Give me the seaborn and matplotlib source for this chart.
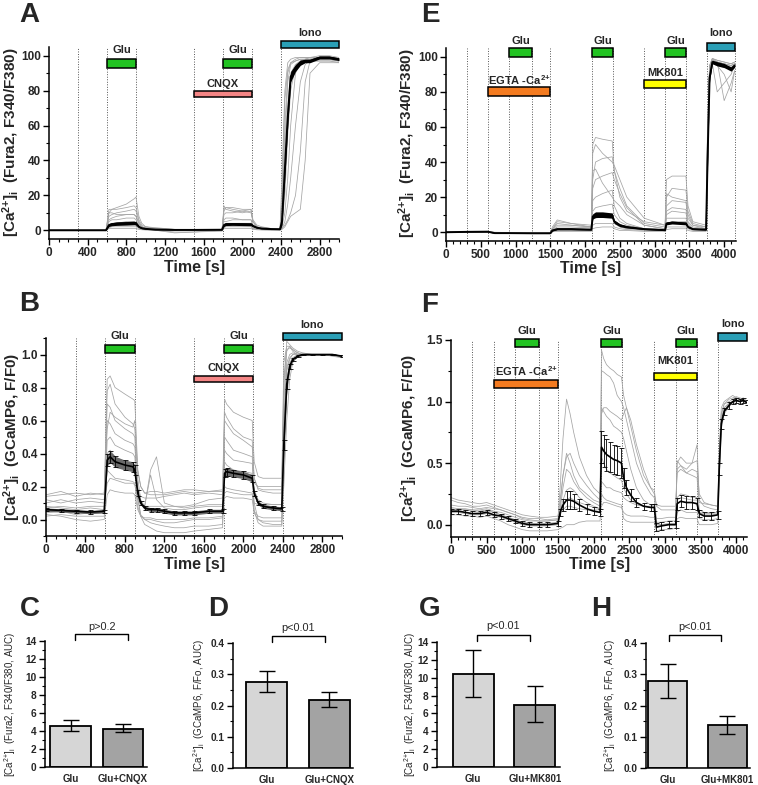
import numpy as np
import pandas as pd
import matplotlib
matplotlib.use("Agg")
import matplotlib.pyplot as plt
import seaborn as sns
from matplotlib.patches import Rectangle
from matplotlib.ticker import MultipleLocator

sns.set_style("ticks")
plt.rcParams["font.family"] = ["Liberation Sans", "DejaVu Sans"]
plt.rcParams["mathtext.fontset"] = "custom"
plt.rcParams["mathtext.rm"] = "Liberation Sans"
plt.rcParams["mathtext.it"] = "Liberation Sans"
plt.rcParams["mathtext.bf"] = "Liberation Sans:bold"

# ===== A: Fura2, Glu / CNQX =====
time_a = [0, 300, 590,
          620, 650, 700, 800, 880, 900,
          930, 960, 1000, 1100, 1300, 1500, 1790,
          1810, 1830, 1900, 2000, 2090,
          2110, 2150, 2200, 2300, 2390,
          2410, 2440, 2470, 2500, 2550, 2600, 2650, 2700, 2800, 2900, 3000]
mean_a = [0, 0, 0,
          3.0, 3.5, 3.8, 4.0, 4.2, 4.0,
          2.0, 1.2, 0.8, 0.4, 0.2, 0.2, 0.3,
          3.0, 3.5, 3.6, 3.5, 3.4,
          2.5, 1.5, 1.0, 0.7, 0.6,
          5, 35, 65, 88, 93, 96, 97, 97, 99, 99, 98]
sem_a = [0.05, 0.05, 0.05,
         0.8, 0.9, 1.0, 1.0, 1.0, 1.0,
         0.5, 0.3, 0.2, 0.1, 0.1, 0.1, 0.1,
         0.8, 0.8, 0.8, 0.8, 0.8,
         0.5, 0.3, 0.2, 0.2, 0.2,
         2, 5, 5, 3, 2, 1.5, 1, 1, 0.8, 0.8, 0.8]
cells_a = [
    [0, 0, 0, 10, 12, 13, 15, 18, 19, 8, 4, 2, 1, 0.5, 0.5, 0.5, 11, 13, 13, 12, 12,
     6, 3, 2, 1, 1, 30, 80, 96, 98, 99, 99, 99, 99, 100, 100, 99],
    [0, 0, 0, 12, 12, 12, 13, 14, 13, 6, 3, 2, 1, 0.3, 0.3, 0.3, 14, 12, 11, 10, 11,
     5, 2, 1.5, 1, 0.8, 10, 50, 85, 95, 97, 98, 98, 98, 98, 98, 97],
    [0, 0, 0, 8, 9, 10, 11, 12, 11, 5, 2, 1, 0.5, 0, 0, 0, 9, 10, 10, 11, 12,
     5, 2, 1, 0.5, 0.5, 2, 10, 30, 60, 90, 96, 97, 98, 98, 98, 97],
    [0, 0, 0, 5, 6, 6, 7, 7, 6, 3, 2, 1.5, 1, 0.5, 0.5, 0.5, 6, 7, 7, 6, 6,
     3, 1.5, 1, 0.8, 0.6, 1, 5, 15, 30, 60, 85, 95, 97, 97, 97, 96],
    [0, 0, 0, 3, 4, 4, 5, 5, 4, 2, 1, 0.5, 0, -1, -1, -0.5, 3, 4, 4, 4, 4,
     2, 1, 0.5, 0.3, 0.3, 1, 3, 6, 10, 20, 45, 85, 97, 97, 97, 97],
    [0, 0, 0, 2, 2.5, 3, 3, 3, 3, 1.5, 1, 2, 1.5, 0.5, 0.3, 0.3, 2, 2.5, 2.5, 2.5, 2.5,
     1.2, 0.8, 0.5, 0.3, 0.3, 20, 75, 92, 96, 97, 98, 98, 99, 99, 99, 98],
    [0, 0, 0, 1.5, 2, 2, 2, 2, 2, 1, 0.5, 0.3, 0.2, 0, 0, 0, 1.5, 2, 2, 2, 2,
     1, 0.5, 0.3, 0.2, 0.2, 3, 20, 55, 80, 94, 97, 98, 98, 99, 99, 98],
    [0, 0, 0, 6, 7, 8, 9, 9, 8, 4, 2, 1, 0.5, 0.2, 0.2, 0.2, 12, 13, 12, 11, 10,
     5, 2, 1, 0.5, 0.4, 5, 40, 70, 90, 95, 97, 98, 98, 98, 98, 97],
    [0, 0, 0, 1, 1, 1, 1, 1, 1, 0.5, 0.3, 0.2, 0, -1.5, -1, 0, 1, 1, 1, 1, 1,
     0.5, 0.3, 0.2, 0.1, 0.1, 0.5, 2, 5, 8, 10, 12, 40, 90, 96, 96, 96],
    [0, 0, 0, 10, 10, 9, 9, 9, 8, 4, 2, 1, 0.5, 0.2, 0.2, 0.2, 5, 5, 6, 6, 6,
     3, 1.5, 1, 0.5, 0.5, 8, 60, 90, 96, 98, 99, 99, 99, 99, 99, 98],
]

# ===== B: GCaMP6, Glu / CNQX =====
time_b = [0, 150, 300, 450, 590,
          620, 650, 700, 800, 880, 900,
          930, 960, 1000, 1060, 1120, 1200, 1300, 1400, 1500, 1650, 1790,
          1810, 1830, 1900, 2000, 2090,
          2110, 2150, 2200, 2300, 2390,
          2410, 2440, 2470, 2500, 2550, 2600, 2700, 2800, 2900, 3000]
mean_b = [0.06, 0.055, 0.05, 0.045, 0.05,
          0.36, 0.38, 0.35, 0.33, 0.32, 0.30,
          0.16, 0.10, 0.07, 0.06, 0.06, 0.05, 0.04, 0.04, 0.04, 0.05, 0.05,
          0.28, 0.29, 0.28, 0.27, 0.25,
          0.16, 0.10, 0.08, 0.07, 0.065,
          0.45, 0.82, 0.93, 0.97, 0.99, 1.0, 1.0, 1.0, 1.0, 0.99]
sem_b = [0.01, 0.01, 0.01, 0.01, 0.01,
         0.035, 0.035, 0.033, 0.03, 0.03, 0.03,
         0.02, 0.012, 0.01, 0.012, 0.012, 0.012, 0.012, 0.012, 0.012, 0.012, 0.012,
         0.025, 0.025, 0.022, 0.022, 0.022,
         0.015, 0.012, 0.012, 0.012, 0.012,
         0.03, 0.03, 0.015, 0.01, 0.005, 0.005, 0.005, 0.005, 0.005, 0.005]
cells_b = [
    [0.15, 0.17, 0.14, 0.16, 0.15, 0.85, 0.87, 0.80, 0.76, 0.73, 0.72,
     0.30, 0.20, 0.16, 0.15, 0.15, 0.15, 0.16, 0.17, 0.16, 0.17, 0.18,
     0.73, 0.70, 0.65, 0.62, 0.60, 0.35, 0.26, 0.25, 0.25, 0.25,
     0.95, 1.05, 1.05, 1.03, 1.01, 1.0, 1.0, 1.0, 1.0, 0.99],
    [0.10, 0.12, 0.10, 0.11, 0.10, 0.78, 0.82, 0.70, 0.62, 0.58, 0.55,
     0.25, 0.12, 0.08, 0.30, 0.38, 0.10, 0.08, 0.08, 0.09, 0.12, 0.13,
     0.65, 0.62, 0.55, 0.50, 0.48, 0.25, 0.18, 0.17, 0.16, 0.16,
     0.80, 1.08, 1.06, 1.04, 1.02, 1.01, 1.0, 1.0, 1.0, 0.99],
    [0.05, 0.06, 0.04, 0.05, 0.05, 0.70, 0.68, 0.60, 0.55, 0.52, 0.50,
     0.15, 0.02, -0.03, -0.05, -0.07, -0.08, -0.08, -0.08, -0.07, -0.06, -0.05,
     0.50, 0.48, 0.42, 0.40, 0.38, 0.10, 0.0, -0.02, -0.03, -0.03,
     0.60, 0.95, 1.0, 1.01, 1.0, 1.0, 1.0, 1.0, 0.99, 0.98],
    [0.08, 0.07, 0.06, 0.07, 0.06, 0.60, 0.58, 0.52, 0.48, 0.46, 0.44,
     0.20, 0.10, 0.08, 0.27, 0.12, 0.07, 0.06, 0.06, 0.07, 0.08, 0.08,
     0.42, 0.40, 0.36, 0.35, 0.34, 0.18, 0.12, 0.10, 0.09, 0.09,
     0.50, 0.90, 0.97, 1.0, 1.01, 1.0, 1.0, 1.0, 1.0, 0.99],
    [0.02, 0.03, 0.02, 0.02, 0.02, 0.48, 0.50, 0.45, 0.42, 0.40, 0.38,
     0.12, 0.03, 0.0, -0.02, -0.03, -0.04, -0.05, -0.05, -0.04, -0.04, -0.03,
     0.35, 0.33, 0.30, 0.28, 0.27, 0.05, -0.02, -0.04, -0.04, -0.04,
     0.40, 0.85, 0.95, 0.98, 1.0, 1.0, 1.0, 1.0, 1.0, 0.99],
    [0.12, 0.10, 0.12, 0.13, 0.12, 0.40, 0.42, 0.38, 0.35, 0.34, 0.33,
     0.18, 0.14, 0.13, 0.13, 0.13, 0.14, 0.15, 0.16, 0.15, 0.16, 0.15,
     0.30, 0.31, 0.30, 0.29, 0.28, 0.22, 0.20, 0.20, 0.20, 0.20,
     0.70, 1.02, 1.05, 1.02, 1.0, 1.0, 1.0, 1.0, 1.0, 0.99],
    [0.04, 0.05, 0.03, 0.04, 0.04, 0.30, 0.28, 0.25, 0.24, 0.23, 0.22,
     0.08, 0.02, 0.0, 0.0, -0.01, -0.02, -0.02, -0.01, 0.0, 0.0, 0.01,
     0.20, 0.19, 0.18, 0.17, 0.16, 0.05, 0.02, 0.01, 0.01, 0.01,
     0.30, 0.75, 0.90, 0.96, 0.99, 1.0, 1.0, 1.0, 1.0, 0.99],
    [0.07, 0.08, 0.07, 0.08, 0.08, 0.22, 0.25, 0.24, 0.22, 0.22, 0.21,
     0.12, 0.09, 0.08, 0.08, 0.08, 0.08, 0.08, 0.07, 0.08, 0.09, 0.09,
     0.16, 0.17, 0.16, 0.15, 0.15, 0.10, 0.09, 0.09, 0.09, 0.09,
     0.55, 0.92, 0.98, 1.0, 1.0, 1.0, 1.0, 1.0, 1.0, 0.99],
    [0.03, 0.02, 0.0, -0.01, 0.0, 0.15, 0.18, 0.17, 0.16, 0.16, 0.15,
     0.06, 0.02, 0.01, 0.01, 0.0, 0.0, 0.0, 0.0, 0.01, 0.01, 0.02,
     0.13, 0.14, 0.13, 0.13, 0.12, 0.04, 0.0, -0.01, -0.01, -0.01,
     0.20, 0.60, 0.85, 0.95, 0.99, 1.0, 1.0, 1.0, 1.0, 0.99],
    [0.14, 0.15, 0.16, 0.15, 0.16, 0.55, 0.65, 0.62, 0.58, 0.56, 0.60,
     0.30, 0.20, 0.16, 0.17, 0.17, 0.16, 0.17, 0.18, 0.18, 0.17, 0.17,
     0.60, 0.58, 0.52, 0.48, 0.44, 0.25, 0.19, 0.18, 0.18, 0.18,
     0.85, 1.03, 1.04, 1.03, 1.01, 1.0, 1.0, 1.0, 1.0, 0.99],
]

# ===== E: Fura2, EGTA / MK801 =====
time_e = [0, 300, 600, 700, 900, 1240, 1500,
          1530, 1600, 1800, 2090,
          2110, 2150, 2250, 2390,
          2420, 2500, 2600, 2850, 3150,
          3170, 3250, 3450,
          3480, 3550, 3740,
          3760, 3790, 3830, 3900, 4000, 4100, 4150]
mean_e = [0, 0.2, 0.3, -0.5, -0.5, -0.6, -0.6,
          1.0, 1.8, 1.8, 1.5,
          9, 10, 10, 9.5,
          6, 4, 3, 1.8, 1.2,
          5, 5.5, 5,
          3, 1.8, 1.5,
          40, 88, 97, 96, 95, 93, 95]
sem_e = [0.1, 0.1, 0.1, 0.1, 0.1, 0.1, 0.1,
         0.3, 0.4, 0.4, 0.3,
         1.5, 1.6, 1.6, 1.5,
         1.0, 0.8, 0.6, 0.3, 0.3,
         0.8, 0.8, 0.8,
         0.5, 0.3, 0.3,
         3, 1.5, 1.0, 1.2, 1.2, 1.2, 1.0]
cells_e = [
    [0, 0, 0, -0.5, -0.5, -0.5, -0.5, 3, 7, 5, 3, 50, 54, 53, 52, 35, 20, 12, 6, 4,
     30, 32, 32, 15, 6, 4, 60, 95, 99, 98, 97, 96, 97],
    [0, 0.5, 0.5, -0.3, -0.5, -0.5, -0.5, 2, 5, 4, 3, 45, 50, 45, 40, 38, 30, 20, 8, 4,
     20, 25, 24, 12, 5, 3, 50, 90, 96, 80, 85, 90, 95],
    [0, 0.3, 0.5, 0, -0.2, -0.3, -0.3, 1.5, 4, 4, 3, 30, 40, 42, 43, 35, 25, 15, 5, 3,
     15, 18, 17, 8, 4, 3, 30, 85, 98, 97, 96, 95, 96],
    [0, 0, 0.2, -0.5, -0.6, -0.7, -0.7, 1, 3, 3, 2.5, 25, 30, 32, 34, 30, 22, 14, 4, 2,
     12, 14, 13, 6, 3, 2, 55, 95, 99, 97, 75, 85, 92],
    [0, 0, 0.2, -0.5, -0.5, -0.6, -0.6, 1, 2, 2, 1.5, 18, 20, 22, 24, 15, 8, 5, 2, 1.5,
     10, 12, 11, 5, 2, 1.5, 45, 92, 98, 97, 96, 95, 96],
    [0, 0, 0.3, -0.4, -0.5, -0.5, -0.5, 1, 1.5, 1.5, 1.2, 12, 14, 15, 16, 10, 6, 4, 2, 1.5,
     8, 8, 8, 4, 2, 1.5, 35, 90, 97, 96, 95, 94, 95],
    [0, 0, 0.2, -0.5, -0.6, -0.6, -0.6, 0.8, 1.5, 1.5, 1.2, 8, 8, 9, 9, 5, 3, 2, 1.5, 1.2,
     5, 6, 6, 3, 1.5, 1.2, 40, 88, 98, 95, 90, 80, 92],
    [0, 0, 0.2, -0.5, -0.5, -0.6, -0.6, 0.5, 1, 1, 1, 4, 5, 5, 5, 3, 2, 1.5, 1, 1,
     3, 3, 3, 2, 1, 1, 35, 85, 96, 97, 96, 95, 96],
    [0, 0, 0, -0.6, -0.7, -0.8, -0.8, 0.3, 0.5, 0.5, 0.5, 2, 2.5, 3, 3, 2, 1, 1, 0.5, 0.5,
     1.5, 2, 2, 1, 0.5, 0.5, 30, 85, 96, 95, 94, 94, 95],
    [0, 0.3, 0.5, -0.3, -0.4, -0.5, -0.5, 2, 6, 5, 4, 35, 36, 28, 20, 18, 15, 10, 4, 2,
     22, 20, 18, 10, 4, 2, 45, 93, 99, 98, 97, 96, 97],
]

# ===== F: GCaMP6, EGTA / MK801 =====
time_f = [0, 100, 200, 300, 400, 500, 600, 700, 800, 900,
          1000, 1100, 1240, 1350, 1500,
          1530, 1570, 1620, 1670, 1720, 1800, 1900, 2000, 2090,
          2110, 2140, 2180, 2230, 2280, 2330, 2390,
          2420, 2460, 2520, 2600, 2700, 2800, 2850,
          2880, 2950, 3050, 3150,
          3170, 3220, 3300, 3380, 3450,
          3480, 3550, 3650, 3740,
          3760, 3790, 3830, 3900, 3950, 4000, 4050, 4100, 4150]
mean_f = [0.11, 0.11, 0.10, 0.09, 0.09, 0.10, 0.08, 0.07, 0.05, 0.03,
          0.01, 0.0, 0.0, 0.0, 0.01,
          0.10, 0.16, 0.20, 0.20, 0.19, 0.16, 0.13, 0.11, 0.10,
          0.63, 0.60, 0.57, 0.55, 0.53, 0.52, 0.50,
          0.38, 0.30, 0.24, 0.18, 0.15, 0.14, 0.14,
          -0.02, -0.01, 0.0, 0.0,
          0.17, 0.19, 0.18, 0.18, 0.17,
          0.09, 0.07, 0.07, 0.08,
          0.45, 0.82, 0.92, 0.97, 1.0, 1.01, 1.0, 1.01, 0.99]
sem_f = [0.02, 0.02, 0.02, 0.02, 0.02, 0.02, 0.02, 0.02, 0.02, 0.02,
         0.02, 0.02, 0.02, 0.02, 0.02,
         0.03, 0.05, 0.07, 0.07, 0.06, 0.05, 0.04, 0.03, 0.03,
         0.13, 0.13, 0.13, 0.12, 0.12, 0.12, 0.12,
         0.08, 0.06, 0.05, 0.04, 0.03, 0.03, 0.03,
         0.03, 0.03, 0.03, 0.03,
         0.05, 0.05, 0.05, 0.05, 0.05,
         0.03, 0.03, 0.03, 0.03,
         0.05, 0.04, 0.03, 0.03, 0.02, 0.02, 0.02, 0.02, 0.02]
cells_f = [
    [0.2, 0.18, 0.17, 0.15, 0.15, 0.16, 0.14, 0.12, 0.1, 0.08, 0.06, 0.05, 0.05, 0.04, 0.05,
     0.3, 0.7, 1.02, 0.9, 0.75, 0.55, 0.4, 0.3, 0.25, 1.42, 1.35, 1.3, 1.27, 1.25, 1.22, 1.2,
     1.05, 0.95, 0.8, 0.6, 0.4, 0.3, 0.28, 0.15, 0.12, 0.12, 0.12, 0.5, 0.55, 0.5, 0.5, 0.52,
     0.25, 0.18, 0.16, 0.15, 0.6, 0.95, 1.0, 1.03, 1.05, 1.03, 1.02, 1.03, 1.0],
    [0.12, 0.13, 0.12, 0.12, 0.11, 0.12, 0.1, 0.08, 0.06, 0.04, 0.02, 0.01, 0.0, 0.0, 0.01,
     0.15, 0.4, 0.58, 0.5, 0.4, 0.3, 0.25, 0.2, 0.18, 1.25, 1.24, 1.22, 1.2, 1.15, 1.05, 1.0,
     0.95, 0.85, 0.7, 0.5, 0.35, 0.25, 0.22, 0.05, 0.05, 0.06, 0.06, 0.45, 0.48, 0.45, 0.5, 0.65,
     0.2, 0.15, 0.13, 0.12, 0.5, 0.9, 0.98, 1.0, 1.02, 1.03, 1.02, 1.0, 0.99],
    [0.1, 0.1, 0.09, 0.08, 0.08, 0.09, 0.07, 0.06, 0.04, 0.02, 0.0, -0.01, -0.01, -0.01, 0.0,
     0.12, 0.3, 0.45, 0.42, 0.35, 0.28, 0.22, 0.18, 0.15, 0.95, 0.92, 0.88, 0.85, 0.8, 0.78, 0.75,
     0.7, 0.6, 0.45, 0.3, 0.2, 0.16, 0.15, 0.0, 0.0, 0.01, 0.01, 0.52, 0.48, 0.42, 0.4, 0.38,
     0.12, 0.1, 0.1, 0.1, 0.45, 0.85, 0.95, 0.98, 1.0, 1.0, 1.01, 1.0, 0.99],
    [0.14, 0.13, 0.13, 0.12, 0.12, 0.13, 0.11, 0.1, 0.08, 0.06, 0.04, 0.03, 0.03, 0.03, 0.04,
     0.08, 0.12, 0.15, 0.15, 0.14, 0.13, 0.12, 0.12, 0.12, 0.35, 0.33, 0.3, 0.3, 0.28, 0.27, 0.26,
     0.22, 0.2, 0.18, 0.16, 0.15, 0.14, 0.14, 0.02, 0.02, 0.03, 0.03, 0.2, 0.22, 0.21, 0.2, 0.2,
     0.1, 0.09, 0.09, 0.1, 0.4, 0.8, 0.92, 0.97, 1.0, 1.0, 1.0, 1.0, 0.99],
    [0.08, 0.08, 0.07, 0.07, 0.06, 0.07, 0.05, 0.03, 0.0, -0.02, -0.04, -0.05, -0.05, -0.05, -0.04,
     -0.03, -0.02, 0.0, 0.0, 0.0, 0.02, 0.03, 0.03, 0.03, 0.25, 0.22, 0.2, 0.19, 0.18, 0.17, 0.16,
     0.05, 0.03, 0.02, 0.02, 0.02, 0.02, 0.02, -0.05, -0.04, -0.04, -0.03, 0.05, 0.06, 0.05, 0.05, 0.05,
     0.0, 0.0, 0.0, 0.01, 0.35, 0.78, 0.9, 0.96, 0.99, 1.0, 1.0, 1.0, 0.99],
    [0.13, 0.12, 0.12, 0.11, 0.1, 0.11, 0.1, 0.08, 0.06, 0.04, 0.02, 0.01, 0.01, 0.01, 0.02,
     0.1, 0.2, 0.28, 0.3, 0.28, 0.22, 0.18, 0.15, 0.13, 0.15, 0.18, 0.18, 0.17, 0.16, 0.15, 0.14,
     0.1, 0.08, 0.07, 0.07, 0.07, 0.06, 0.06, 0.0, 0.0, 0.0, 0.0, 0.1, 0.12, 0.1, 0.1, 0.1,
     0.05, 0.04, 0.04, 0.05, 0.4, 0.82, 0.93, 0.98, 1.0, 1.0, 1.0, 1.0, 0.99],
    [0.22, 0.2, 0.19, 0.18, 0.17, 0.18, 0.16, 0.14, 0.12, 0.1, 0.08, 0.07, 0.06, 0.06, 0.07,
     0.2, 0.4, 0.55, 0.58, 0.5, 0.4, 0.32, 0.25, 0.2, 0.9, 0.95, 0.95, 0.92, 0.9, 0.88, 0.85,
     0.9, 0.95, 0.85, 0.65, 0.45, 0.3, 0.25, 0.16, 0.15, 0.15, 0.15, 0.42, 0.45, 0.42, 0.45, 0.43,
     0.18, 0.17, 0.16, 0.15, 0.5, 0.9, 0.98, 1.02, 1.03, 1.04, 1.03, 1.02, 1.0],
    [0.16, 0.15, 0.15, 0.14, 0.13, 0.14, 0.13, 0.12, 0.1, 0.08, 0.05, 0.04, 0.03, 0.03, 0.04,
     0.1, 0.15, 0.2, 0.22, 0.2, 0.18, 0.16, 0.14, 0.13, 0.55, 0.5, 0.45, 0.42, 0.4, 0.38, 0.36,
     0.3, 0.25, 0.2, 0.17, 0.15, 0.15, 0.15, -0.02, -0.01, 0.0, 0.0, 0.22, 0.25, 0.24, 0.22, 0.22,
     0.1, 0.08, 0.08, 0.09, 0.45, 0.85, 0.95, 0.99, 1.0, 1.0, 1.0, 1.0, 0.99],
]

# ===== drug applications (name, start, end, colour) =====
GREEN, CNQX_C, IONO_C, EGTA_C, MK_C = "#22c322", "#f48585", "#2a9fb6", "#f47b20", "#ffff00"
EGTA = "EGTA -Ca$^{\\mathbf{2{+}}}$"
drugs_ab = [("Glu", 600, 900, GREEN), ("Glu", 1800, 2100, GREEN),
            ("CNQX", 1500, 2100, CNQX_C), ("Iono", 2400, 3000, IONO_C)]
drugs_ef = [("Glu", 900, 1240, GREEN), ("Glu", 2100, 2400, GREEN), ("Glu", 3150, 3450, GREEN),
            (EGTA, 600, 1500, EGTA_C), ("MK801", 2850, 3450, MK_C),
            ("Iono", 3750, 4150, IONO_C)]
marks_ab = [300, 600, 900, 1500, 1800, 2100, 2400, 3000]
marks_ef = [300, 600, 900, 1240, 1500, 2100, 2400, 2850, 3150, 3450, 3750, 4150]

# ===== AUC bars =====
cond_cnqx = ["Glu", "Glu+CNQX"]
cond_mk = ["Glu", "Glu+MK801"]
auc_c, lo_c, hi_c = [4.6, 4.25], [4.0, 3.85], [5.2, 4.75]
auc_d, lo_d, hi_d = [0.274, 0.218], [0.242, 0.196], [0.309, 0.242]
auc_g, lo_g, hi_g = [10.4, 7.0], [7.8, 5.05], [13.05, 9.1]
auc_h, lo_h, hi_h = [0.277, 0.137], [0.225, 0.11], [0.332, 0.166]

W, H = 758, 785
fig = plt.figure(figsize=(W / 100, H / 100), dpi=100)


def px_axes(l, r, t, b):
    return fig.add_axes([l / W, 1 - b / H, (r - l) / W, (b - t) / H])


def bold_ticks(ax, size):
    ax.tick_params(axis="both", which="major", labelsize=size, length=4, width=1, direction="out", color="black", pad=2)
    ax.tick_params(axis="both", which="minor", length=2, width=0.8, direction="out", color="black")
    for lab in ax.get_xticklabels() + ax.get_yticklabels():
        lab.set_fontweight("bold")
    for s in ["left", "bottom"]:
        ax.spines[s].set_linewidth(1.1)
        ax.spines[s].set_color("black")


def trace_panel(ax, t, cells, mean, sem, marks, style):
    rows = []
    for k, tr in enumerate(cells):
        for ti, v in zip(t, tr, strict=True):
            rows.append((k, ti, v))
    df = pd.DataFrame(rows, columns=["cell", "time", "value"])
    for m in marks:
        ax.axvline(m, color="#555555", ls=(0, (1, 1.6)), lw=0.7, zorder=0)
    sns.lineplot(data=df, x="time", y="value", units="cell", estimator=None,
                 color="#a4a4a4", lw=0.55, ax=ax, legend=False, zorder=1)
    t = np.array(t)
    mean = np.array(mean)
    sem = np.array(sem)
    assert len(t) == len(mean) == len(sem)
    if style == "band":
        ax.fill_between(t, mean - sem, mean + sem, color="black", lw=0, zorder=2)
        ax.plot(t, mean, color="black", lw=1.4, zorder=3)
    else:
        if style == "dense":
            ax.fill_between(t, mean - sem, mean + sem, color="#6a6a6a", lw=0, zorder=2)
        ax.errorbar(t, mean, yerr=sem, fmt="-", color="black", lw=1.2, elinewidth=0.6,
                    capsize=1.8, capthick=0.6, zorder=3)
    ax.set_xlabel("")
    ax.set_ylabel("")
    sns.despine(ax=ax)


def drug_bars(ax, drugs, levels):
    for name, x0, x1, col in drugs:
        y0, y1, ly = levels[name]
        ax.add_patch(Rectangle((x0, y0), x1 - x0, y1 - y0, facecolor=col, edgecolor="black",
                               lw=1.1, clip_on=False, zorder=5))
        ax.text((x0 + x1) / 2, ly, name, ha="center", va="center", fontsize=8,
                fontweight="bold", clip_on=False)


lab_fura = r"[Ca$^{\mathbf{2{+}}}$]$_{\mathbf{i}}$  (Fura2, F340/F380)"
lab_gcamp = r"[Ca$^{\mathbf{2{+}}}$]$_{\mathbf{i}}$  (GCaMP6, F/F0)"

# ---- A ----
ax = px_axes(49, 339, 47, 239)
trace_panel(ax, time_a, cells_a, mean_a, sem_a, marks_ab, "band")
ax.set_xlim(0, 3000)
ax.set_ylim(-5, 105)
ax.set_xticks(range(0, 3000, 400))
ax.xaxis.set_minor_locator(MultipleLocator(100))
ax.set_yticks(range(0, 101, 20))
ax.yaxis.set_minor_locator(MultipleLocator(10))
drug_bars(ax, drugs_ab, {"Glu": (93, 98, 103.5), "CNQX": (76.5, 80, 84), "Iono": (104.5, 108.5, 113)})
bold_ticks(ax, 8.5)

# ---- B ----
ax = px_axes(46, 342, 338, 536)
trace_panel(ax, time_b, cells_b, mean_b, sem_b, marks_ab, "dense")
ax.set_xlim(0, 3000)
ax.set_ylim(-0.1, 1.1)
ax.set_xticks(range(0, 3000, 400))
ax.xaxis.set_minor_locator(MultipleLocator(100))
ax.set_yticks([0.0, 0.2, 0.4, 0.6, 0.8, 1.0])
ax.set_yticklabels(["0.0", "0.2", "0.4", "0.6", "0.8", "1.0"])
ax.yaxis.set_minor_locator(MultipleLocator(0.1))
drug_bars(ax, drugs_ab, {"Glu": (1.01, 1.06, 1.11), "CNQX": (0.832, 0.872, 0.92), "Iono": (1.085, 1.133, 1.18)})
bold_ticks(ax, 8.5)

# ---- E ----
ax = px_axes(446, 736, 48, 241)
trace_panel(ax, time_e, cells_e, mean_e, sem_e, marks_ef, "band")
ax.set_xlim(0, 4170)
ax.set_ylim(-5, 105)
ax.set_xticks(range(0, 4001, 500))
ax.xaxis.set_minor_locator(MultipleLocator(100))
ax.set_yticks(range(0, 101, 20))
ax.yaxis.set_minor_locator(MultipleLocator(10))
drug_bars(ax, drugs_ef, {"Glu": (100, 105, 108.8), EGTA: (77.5, 82.5, 86.8),
                         "MK801": (82, 86.5, 90.8), "Iono": (103.5, 108, 113.5)})
bold_ticks(ax, 8.5)

# ---- F ----
ax = px_axes(451, 747, 340, 537)
trace_panel(ax, time_f, cells_f, mean_f, sem_f, marks_ef, "bars")
ax.set_xlim(0, 4150)
ax.set_ylim(-0.1, 1.5)
ax.set_xticks(range(0, 4001, 500))
ax.xaxis.set_minor_locator(MultipleLocator(100))
ax.set_yticks([0.0, 0.5, 1.0, 1.5])
ax.set_yticklabels(["0.0", "0.5", "1.0", "1.5"])
ax.yaxis.set_minor_locator(MultipleLocator(0.25))
drug_bars(ax, drugs_ef, {"Glu": (1.445, 1.505, 1.57), EGTA: (1.114, 1.179, 1.245),
                         "MK801": (1.176, 1.236, 1.33), "Iono": (1.492, 1.554, 1.627)})
bold_ticks(ax, 8.5)

for x, y in [(195, 268), (591, 269), (195, 564), (600, 565)]:
    fig.text(x / W, 1 - y / H, "Time [s]", ha="center", va="center", fontsize=11.5, fontweight="bold")
for x, y, s in [(11, 142, lab_fura), (407, 143, lab_fura), (12, 437, lab_gcamp), (409, 438, lab_gcamp)]:
    fig.text(x / W, 1 - y / H, s, ha="center", va="center", rotation=90, fontsize=11, fontweight="bold")


# ---- bar panels ----
def bar_panel(box, cats, vals, lo, hi, xlim, width, ymax, ystep, ptxt, br, ylab, lab_x):
    l, r, t, b = box
    ax = px_axes(l, r, t, b)
    df = pd.DataFrame({"cond": cats, "auc": vals})
    sns.barplot(data=df, x="cond", y="auc", hue="cond", palette=["#d6d6d6", "#a3a3a3"],
                edgecolor="black", linewidth=1.3, width=width, ax=ax, legend=False, errorbar=None)
    vals = np.array(vals)
    ax.errorbar([0, 1], vals, yerr=[vals - np.array(lo), np.array(hi) - vals], fmt="none",
                ecolor="black", elinewidth=1, capsize=6, capthick=1, zorder=4)
    ax.set_xlim(*xlim)
    ax.set_ylim(0, ymax)
    ax.set_yticks(np.arange(0, ymax + ystep / 2, ystep))
    ax.yaxis.set_minor_locator(MultipleLocator(ystep / 2))
    if ystep < 1:
        ax.set_yticklabels([f"{v:.1f}" for v in np.arange(0, ymax + ystep / 2, ystep)])
    ax.set_xlabel("")
    ax.set_ylabel("")
    sns.despine(ax=ax)
    bold_ticks(ax, 7.3)
    ax.tick_params(axis="x", length=0, pad=5, labelsize=7)
    x0, x1, yb, yt, yp = br
    ax.plot([x0, x0, x1, x1], [yt, yb, yb, yt], color="black", lw=1, clip_on=False)
    ax.text((x0 + x1) / 2, yp, ptxt, ha="center", va="center", fontsize=7.8, clip_on=False)
    fig.text(lab_x / W, 1 - (t + b) / 2 / H, ylab, rotation=90, ha="center", va="center", fontsize=7)


lab_fura_auc = r"[Ca$^{\mathrm{2{+}}}$]$_{\mathrm{i}}$  (Fura2, F340/F380, AUC)"
lab_gcamp_auc = r"[Ca$^{\mathrm{2{+}}}$]$_{\mathrm{i}}$  (GCaMP6, F/Fo, AUC)"

bar_panel((45, 147, 641, 767), cond_cnqx, auc_c, lo_c, hi_c, (-0.49, 1.46), 0.78, 14, 2,
          "p>0.2", (0.09, 1.1, 14.8, 14.1, 15.5), lab_fura_auc, 10)
bar_panel((233, 353, 643, 768), cond_cnqx, auc_d, lo_d, hi_d, (-0.54, 1.38), 0.65, 0.4, 0.1,
          "p<0.01", (0.08, 0.93, 0.4224, 0.403, 0.449), lab_gcamp_auc, 199)
bar_panel((437, 560, 642, 767), cond_mk, auc_g, lo_g, hi_g, (-0.59, 1.41), 0.66, 14, 2,
          "p<0.01", (0.06, 0.92, 14.78, 14.15, 15.8), lab_fura_auc, 410)
bar_panel((646, 750, 643, 768), cond_mk, auc_h, lo_h, hi_h, (-0.36, 1.38), 0.66, 0.4, 0.1,
          "p<0.01", (0.02, 0.9, 0.4256, 0.406, 0.452), lab_gcamp_auc, 610)

# ---- panel letters ----
for s, x, y in [("A", 29, 15), ("E", 430, 15), ("B", 29, 304), ("F", 430, 305),
                ("C", 30, 609), ("D", 218, 609), ("G", 430, 609), ("H", 601, 609)]:
    fig.text(x / W, 1 - y / H, s, ha="center", va="center", fontsize=20, fontweight="bold")

fig.savefig("out.png", dpi=100)
